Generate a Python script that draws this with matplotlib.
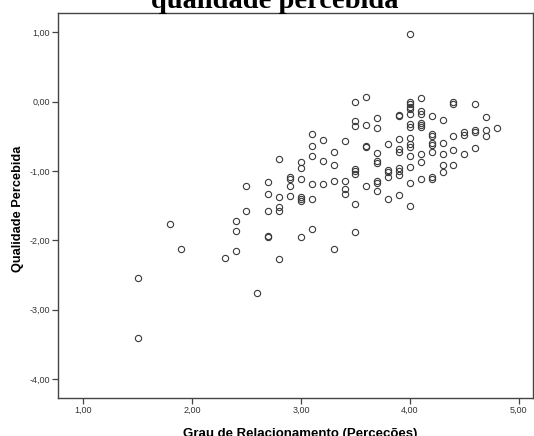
import matplotlib
matplotlib.use("Agg")
import matplotlib.pyplot as plt
import numpy as np

# Grau de Relacionamento (x levels) and the Qualidade Percebida values observed at each level
x_levels = [1.5, 1.8, 1.9, 2.3, 2.4, 2.5, 2.6, 2.7, 2.8, 2.9, 3.0, 3.1, 3.2, 3.3,
            3.4, 3.5, 3.6, 3.7, 3.8, 3.9, 4.0, 4.1, 4.2, 4.3, 4.4, 4.5, 4.6, 4.7, 4.8]
y_groups = [
  [-2.54, -3.41],
  [-1.76],
  [-2.13],
  [-2.26],
  [-1.72, -1.86, -2.16],
  [-1.22, -1.58],
  [-2.76],
  [-1.16, -1.33, -1.57, -1.93, -1.95],
  [-0.83, -1.38, -1.52, -1.58, -2.27],
  [-1.09, -1.11, -1.22, -1.36],
  [-0.87, -0.95, -1.12, -1.37, -1.40, -1.43, -1.95],
  [-0.47, -0.64, -0.79, -1.18, -1.41, -1.83],
  [-0.55, -0.85, -1.18],
  [-0.73, -0.92, -1.15, -2.13],
  [-0.57, -1.14, -1.26, -1.33],
  [0.00, -0.28, -0.35, -0.97, -1.00, -1.04, -1.47, -1.88],
  [0.07, -0.33, -0.64, -0.66, -1.22],
  [-0.24, -0.38, -0.74, -0.85, -0.88, -1.14, -1.17, -1.29],
  [-0.61, -0.98, -1.02, -1.08, -1.40],
  [-0.19, -0.21, -0.54, -0.68, -0.72, -0.96, -1.00, -1.05, -1.35],
  [0.97, 0.00, -0.04, -0.07, -0.11, -0.18, -0.32, -0.36, -0.53, -0.61, -0.66,
   -0.79, -0.94, -1.17, -1.50],
  [0.05, -0.14, -0.17, -0.30, -0.33, -0.37, -0.76, -0.87, -1.12],
  [-0.20, -0.47, -0.50, -0.60, -0.62, -0.73, -1.08, -1.12],
  [-0.27, -0.59, -0.76, -0.92, -1.01],
  [-0.01, -0.04, -0.50, -0.70, -0.91],
  [-0.43, -0.48, -0.76],
  [-0.03, -0.41, -0.43, -0.67],
  [-0.22, -0.41, -0.50],
  [-0.38],
]
x_ticks = [1, 2, 3, 4, 5]
y_ticks = [1, 0, -1, -2, -3, -4]

xs = []
ys = []
for xv, group in zip(x_levels, y_groups):
  for yv in group:
    xs.append(xv)
    ys.append(yv)

def fmt(v):
  return "{0:.2f}".format(v).replace(".", ",")

sans = ["Liberation Sans", "DejaVu Sans"]
spine_col = "#444444"

fig = plt.figure(figsize=(5.34, 4.36), dpi=100)
ax = fig.add_axes([58 / 534, 1 - 397.7 / 436, (533 - 58) / 534, (397.7 - 13) / 436])

ax.plot(xs, ys, linestyle="none", marker="o", markersize=4.5,
        markerfacecolor="none", markeredgecolor="#3a3a3a", markeredgewidth=0.8)

ax.set_xlim(0.77, 5.13)
ax.set_ylim(-4.27, 1.28)
ax.set_xticks(x_ticks)
ax.set_xticklabels([fmt(v) for v in x_ticks], family=sans, fontsize=6.5, color="#333333")
ax.set_yticks(y_ticks)
ax.set_yticklabels([fmt(v) for v in y_ticks], family=sans, fontsize=6.5, color="#333333")
ax.tick_params(direction="out", length=4.5, width=0.9, color=spine_col, pad=1.5)

for s in ax.spines.values():
  s.set_color(spine_col)
  s.set_linewidth(1.0)

# y label sits close to the tick labels, as in the SPSS output
fig.text(18 / 534, 1 - 209 / 436, "Qualidade Percebida", family=sans, fontsize=9.2,
         fontweight="bold", rotation=90, ha="center", va="center")
fig.text(300 / 534, -0.5 / 436, "Grau de Relacionamento (Perceções)", family=sans,
         fontsize=9.5, fontweight="bold", ha="center", va="baseline")
fig.text(275 / 534, 1 - 8.5 / 436, "qualidade percebida", family=["Liberation Serif", "DejaVu Serif"],
         fontsize=20.5, fontweight="bold", ha="center", va="baseline")

fig.savefig("out.png", dpi=100)
